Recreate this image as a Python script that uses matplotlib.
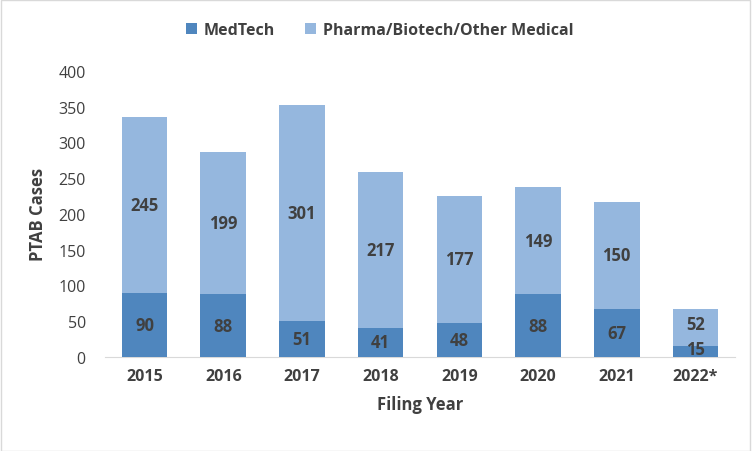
import matplotlib
matplotlib.use("Agg")
import matplotlib.pyplot as plt
import numpy as np

years = ["2015", "2016", "2017", "2018", "2019", "2020", "2021", "2022*"]
medtech = [90, 88, 51, 41, 48, 88, 67, 15]
pharma = [245, 199, 301, 217, 177, 149, 150, 52]

C_MED = "#4F86BE"
C_PHA = "#95B7DE"
C_TXT = "#404040"

plt.rcParams["font.family"] = ["Open Sans", "DejaVu Sans"]

fig = plt.figure(figsize=(7.52, 4.52), dpi=100)
ax = fig.add_axes([0.14, 0.208, 0.837, 0.633])

x = np.arange(len(years))
bw = 0.58
ax.bar(x, medtech, bw, color=C_MED, label="MedTech", zorder=3)
ax.bar(x, pharma, bw, bottom=medtech, color=C_PHA,
       label="Pharma/Biotech/Other Medical", zorder=3)

for i, (m, p) in enumerate(zip(medtech, pharma)):
    my = m / 2 if m > 30 else m - 4
    ax.text(i, my, str(m), ha="center", va="center", fontsize=12,
            fontweight="bold", color=C_TXT, zorder=4)
    py = m + p / 2 if p > 60 else m + p / 2 + 5
    ax.text(i, py, str(p), ha="center", va="center", fontsize=12,
            fontweight="bold", color=C_TXT, zorder=4)

ax.set_xlim(-0.5, len(years) - 0.5)
ax.set_ylim(0, 400)
ax.set_yticks(range(0, 401, 50))
ax.set_xticks(x)
ax.set_xticklabels(years, fontsize=11.5, fontweight="bold", color=C_TXT)
ax.tick_params(axis="y", labelsize=11.5, labelcolor=C_TXT, length=0, pad=14)
ax.tick_params(axis="x", length=0, pad=8)
for s in ["top", "right", "left"]:
    ax.spines[s].set_visible(False)
ax.spines["bottom"].set_color("#D9D9D9")

ax.set_xlabel("Filing Year", fontsize=12, fontweight="bold", color=C_TXT, labelpad=8)
ax.set_ylabel("PTAB Cases", fontsize=12, fontweight="bold", color=C_TXT, labelpad=8)

handles, labels = ax.get_legend_handles_labels()
fig.legend(handles, labels, loc="center", bbox_to_anchor=(0.505, 0.932), ncol=2,
           frameon=False, handlelength=0.7, handleheight=0.7, columnspacing=1.9,
           handletextpad=0.4, labelcolor=C_TXT,
           prop={"weight": "bold", "size": 11.5})

border = plt.Rectangle((0.001, 0.001), 0.997, 0.997, transform=fig.transFigure,
                       fill=False, edgecolor="#D9D9D9", linewidth=1)
fig.patches.append(border)

fig.savefig("out.png", dpi=100)
